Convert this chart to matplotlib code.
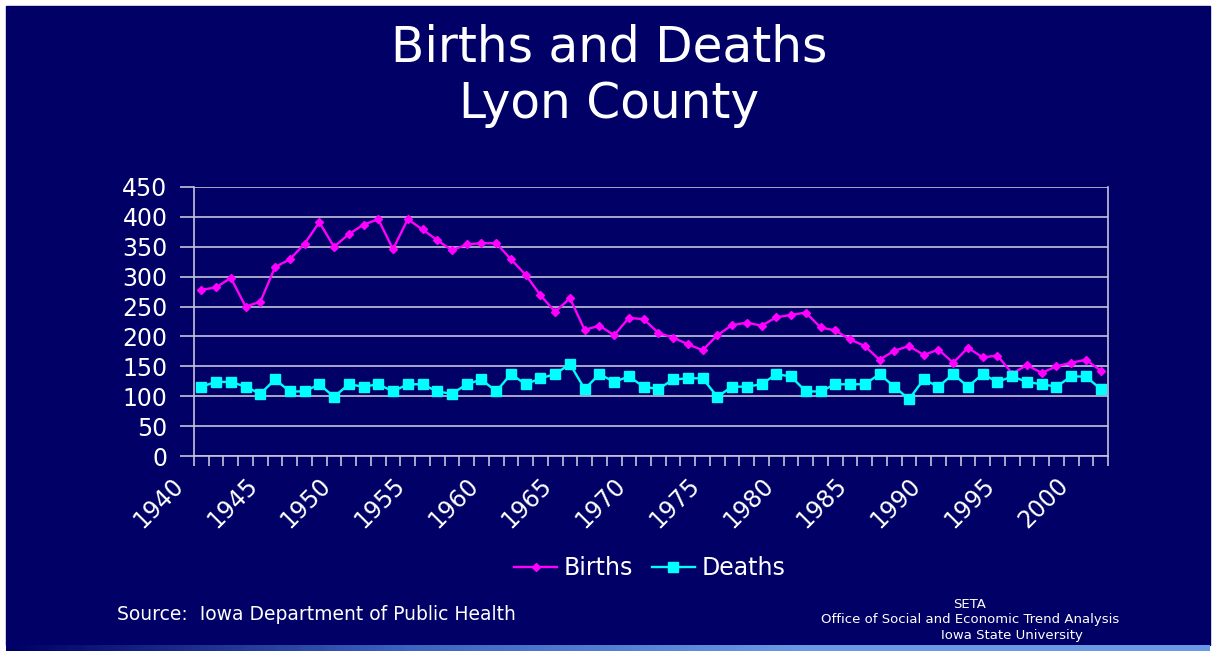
import numpy as np
import matplotlib
matplotlib.use("Agg")
from matplotlib import pyplot as plt
from matplotlib.patches import Rectangle
from matplotlib.colors import LinearSegmentedColormap
from matplotlib.transforms import ScaledTranslation

# one value per year, 1940 - 2001
years = list(range(1940, 2002))
births = [278, 282, 298, 250, 258, 316, 329, 355, 391, 350,
          371, 387, 396, 346, 396, 379, 361, 344, 354, 356,
          356, 329, 303, 269, 241, 264, 211, 218, 202, 231,
          229, 206, 198, 187, 177, 202, 219, 223, 218, 232,
          236, 240, 215, 210, 195, 184, 161, 176, 184, 169,
          178, 156, 181, 165, 168, 138, 152, 139, 150, 156,
          161, 143]
deaths = [116, 124, 124, 116, 104, 128, 108, 108, 120, 99,
          120, 116, 120, 108, 120, 120, 108, 104, 120, 128,
          108, 137, 120, 130, 137, 154, 112, 137, 124, 133,
          116, 112, 128, 130, 130, 99, 116, 116, 120, 137,
          133, 108, 108, 120, 120, 120, 137, 116, 95, 128,
          116, 137, 116, 137, 124, 133, 124, 120, 116, 133,
          133, 112]
label_years = list(range(1940, 2001, 5))
y_ticks = list(range(0, 451, 50))

navy = "#000066"
grid_col = "#c4c4dc"
W, H = 1214, 651

fig = plt.figure(figsize=(W / 100, H / 100), dpi=100)
fig.patch.set_facecolor("white")

# slide background
fig.patches.append(Rectangle((6 / W, 6 / H), 1204 / W, 639 / H,
                             transform=fig.transFigure, color=navy, zorder=-10))

# light strip along the bottom edge
strip = fig.add_axes([6 / W, 0, 1204 / W, 6 / H])
cmap = LinearSegmentedColormap.from_list("strip", [navy, "#3c64c0", "#6a9ae6", "#6a9ae6"])
strip.imshow(np.linspace(0, 1, 300).reshape(1, -1), aspect="auto", cmap=cmap)
strip.axis("off")

ax = fig.add_axes([194 / W, 1 - 456 / H, 914 / W, 269 / H])
ax.set_facecolor(navy)

ax.plot(years, births, color="#ff00ff", lw=1.7, marker="D", ms=4.5,
        mec="#ff00ff", label="Births")
ax.plot(years, deaths, color="#00ffff", lw=1.7, marker="s", ms=6.5,
        mec="#00ffff", label="Deaths")

ax.set_ylim(0, 450)
ax.set_yticks(y_ticks)
ax.set_xlim(years[0] - 0.5, years[-1] + 0.5)
ax.set_xticks(label_years)
ax.set_xticks(np.arange(years[0] - 0.5, years[-1] + 1), minor=True)
ax.yaxis.grid(True, color=grid_col, lw=1.2)
ax.set_axisbelow(True)

for s in ["left", "bottom", "right"]:
    ax.spines[s].set_color(grid_col)
    ax.spines[s].set_linewidth(1.2)
ax.spines["top"].set_visible(False)

ax.tick_params(axis="y", colors=grid_col, length=10, width=1.2, labelsize=17,
               labelcolor="white", pad=9)
ax.tick_params(axis="x", which="major", length=0, labelsize=17,
               labelcolor="white", pad=24)
ax.tick_params(axis="x", which="minor", colors=grid_col, length=7, width=1.2)

for lab in ax.get_xticklabels():
    lab.set_rotation(45)
    lab.set_ha("right")
    lab.set_va("top")
    lab.set_transform(lab.get_transform() + ScaledTranslation(-0.13, 0.16, fig.dpi_scale_trans))

fig.text(609 / W, 1 - 47 / H, "Births and Deaths", ha="center", va="center",
         fontsize=35, color="white")
fig.text(609 / W, 1 - 104 / H, "Lyon County", ha="center", va="center",
         fontsize=35, color="white")

leg = fig.legend(loc="center", bbox_to_anchor=(650 / W, 1 - 568 / H), ncol=2,
                 frameon=False, fontsize=17, handlelength=1.8, handletextpad=0.3,
                 columnspacing=0.8)
for t in leg.get_texts():
    t.set_color("white")

fig.text(117 / W, 1 - 615 / H, "Source:  Iowa Department of Public Health",
         ha="left", va="center", fontsize=13.5, color="white")
fig.text(970 / W, 1 - 604 / H, "SETA", ha="center", va="center", fontsize=9.5, color="white")
fig.text(970 / W, 1 - 620 / H, "Office of Social and Economic Trend Analysis",
         ha="center", va="center", fontsize=9.5, color="white")
fig.text(1012 / W, 1 - 635 / H, "Iowa State University", ha="center", va="center",
         fontsize=9.5, color="white")

fig.savefig("out.png", dpi=100, facecolor=fig.get_facecolor())
